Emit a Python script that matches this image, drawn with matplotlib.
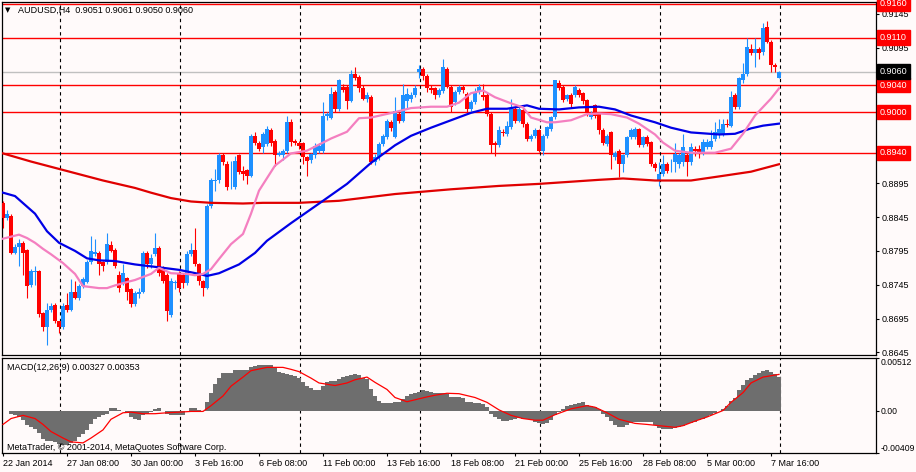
import matplotlib
matplotlib.use("Agg")
import matplotlib.pyplot as plt
import matplotlib.transforms as mtransforms
import numpy as np

# AUDUSD H4 candles, bar 0 = 22 Jan 2014 16:00
opens = [
    0.8866, 0.8844, 0.8847, 0.8792, 0.8801, 0.8807, 0.8796, 0.8744, 0.8764, 0.8765,
    0.8703, 0.8682, 0.8708, 0.8715, 0.8691, 0.8683, 0.8715, 0.8708, 0.8734, 0.8725,
    0.8743, 0.8749, 0.8778, 0.8791, 0.8792, 0.8778, 0.8778, 0.8804, 0.8797, 0.8760,
    0.8748, 0.8755, 0.8738, 0.8716, 0.8732, 0.8735, 0.8792, 0.8775, 0.8790, 0.8800,
    0.8770, 0.8760, 0.8701, 0.8748, 0.8763, 0.8760, 0.8748, 0.8790, 0.8797, 0.8775,
    0.8750, 0.8740, 0.8862, 0.8898, 0.8899, 0.8937, 0.8924, 0.8908, 0.8889, 0.8936,
    0.8913, 0.8914, 0.8906, 0.8965, 0.8955, 0.8948, 0.8953, 0.8974, 0.8958, 0.8937,
    0.8937, 0.8943, 0.8986, 0.8958, 0.8955, 0.8954, 0.8933, 0.8930, 0.8936, 0.8943,
    0.8943, 0.8995, 0.8992, 0.9030, 0.9005, 0.9037, 0.9037, 0.9017, 0.9057, 0.9052,
    0.9036, 0.9020, 0.9023, 0.8926, 0.8933, 0.8953, 0.8963, 0.8985, 0.8963, 0.8997,
    0.8987, 0.9017, 0.9020, 0.9025, 0.9059, 0.9064, 0.9054, 0.9035, 0.9035, 0.9026,
    0.9031, 0.9064, 0.9037, 0.9015, 0.9030, 0.9037, 0.9027, 0.9005, 0.9015, 0.9030,
    0.9026, 0.9025, 0.8997, 0.8954, 0.8951, 0.8971, 0.8968, 0.8978, 0.9004, 0.8987,
    0.9003, 0.8983, 0.8961, 0.8965, 0.8973, 0.8943, 0.8965, 0.8975, 0.8993, 0.9043,
    0.9037, 0.9020, 0.9025, 0.9025, 0.9033, 0.9028, 0.9018, 0.8993, 0.9010, 0.8997,
    0.8974, 0.8953, 0.8970, 0.8933, 0.8943, 0.8923, 0.8936, 0.8963, 0.8963, 0.8975,
    0.8952, 0.8963, 0.8956, 0.8923, 0.8899, 0.8909, 0.8923, 0.8920, 0.8926, 0.8923,
    0.8926, 0.8936, 0.8926, 0.8946, 0.8946, 0.8939, 0.8949, 0.8948, 0.8960, 0.8968,
    0.8968, 0.8982, 0.8980, 0.9025, 0.9007, 0.9047, 0.9057, 0.9094, 0.9087, 0.9094,
    0.9089, 0.9126, 0.9104, 0.9070, 0.9051,
]
highs = [
    0.8869, 0.8855, 0.8849, 0.8805, 0.8812, 0.8810, 0.8798, 0.8768, 0.8772, 0.8767,
    0.8705, 0.8718, 0.8718, 0.8718, 0.8692, 0.8718, 0.8733, 0.8754, 0.8750, 0.8746,
    0.8757, 0.8782, 0.8817, 0.8812, 0.8795, 0.8780, 0.8822, 0.8810, 0.8800, 0.8765,
    0.8775, 0.8757, 0.8740, 0.8736, 0.8740, 0.8795, 0.8795, 0.8790, 0.8822, 0.8802,
    0.8772, 0.8762, 0.8755, 0.8752, 0.8765, 0.8762, 0.8795, 0.8807, 0.8829, 0.8777,
    0.8752, 0.8865, 0.8903, 0.8916, 0.8939, 0.8940, 0.8928, 0.8928, 0.8935, 0.8938,
    0.8920, 0.8916, 0.8968, 0.8970, 0.8958, 0.8970, 0.8980, 0.8977, 0.8960, 0.8942,
    0.8945, 0.8995, 0.8990, 0.8960, 0.8958, 0.8956, 0.8935, 0.8940, 0.8955, 0.8955,
    0.9015, 0.9000, 0.9037, 0.9032, 0.9049, 0.9042, 0.9040, 0.9062, 0.9067, 0.9055,
    0.9040, 0.9030, 0.9026, 0.8938, 0.8956, 0.8968, 0.8990, 0.8988, 0.9022, 0.9000,
    0.9042, 0.9035, 0.9030, 0.9040, 0.9069, 0.9066, 0.9056, 0.9040, 0.9037, 0.9036,
    0.9079, 0.9066, 0.9040, 0.9032, 0.9040, 0.9040, 0.9030, 0.9018, 0.9035, 0.9042,
    0.9042, 0.9028, 0.9000, 0.8957, 0.8980, 0.8975, 0.8987, 0.9020, 0.9007, 0.9008,
    0.9006, 0.8985, 0.8968, 0.8976, 0.8975, 0.8967, 0.8980, 0.8995, 0.9048, 0.9047,
    0.9040, 0.9027, 0.9028, 0.9040, 0.9036, 0.9030, 0.9020, 0.9002, 0.9012, 0.8999,
    0.8976, 0.8968, 0.8972, 0.8942, 0.8945, 0.8938, 0.8965, 0.8976, 0.8978, 0.8977,
    0.8965, 0.8966, 0.8958, 0.8926, 0.8926, 0.8936, 0.8926, 0.8931, 0.8955, 0.8940,
    0.8968, 0.8940, 0.8955, 0.8950, 0.8952, 0.8961, 0.8960, 0.8973, 0.8985, 0.8990,
    0.8990, 0.8990, 0.9031, 0.9028, 0.9052, 0.9072, 0.9109, 0.9101, 0.9110, 0.9096,
    0.9131, 0.9135, 0.9106, 0.9073, 0.9061,
]
lows = [
    0.8829, 0.8840, 0.8790, 0.8790, 0.8772, 0.8760, 0.8726, 0.8742, 0.8745, 0.8698,
    0.8676, 0.8656, 0.8705, 0.8688, 0.8673, 0.8680, 0.8705, 0.8706, 0.8724, 0.8722,
    0.8740, 0.8747, 0.8776, 0.8788, 0.8760, 0.8765, 0.8775, 0.8793, 0.8770, 0.8735,
    0.8745, 0.8723, 0.8712, 0.8713, 0.8725, 0.8733, 0.8770, 0.8770, 0.8788, 0.8758,
    0.8748, 0.8691, 0.8698, 0.8738, 0.8735, 0.8740, 0.8745, 0.8788, 0.8773, 0.8745,
    0.8728, 0.8738, 0.8858, 0.8884, 0.8895, 0.8922, 0.8885, 0.8886, 0.8886, 0.8908,
    0.8900, 0.8894, 0.8904, 0.8952, 0.8942, 0.8940, 0.8950, 0.8950, 0.8921, 0.8935,
    0.8930, 0.8940, 0.8950, 0.8952, 0.8945, 0.8923, 0.8906, 0.8925, 0.8932, 0.8940,
    0.8940, 0.8988, 0.8990, 0.9000, 0.9002, 0.9030, 0.9005, 0.9015, 0.9048, 0.9030,
    0.9018, 0.9015, 0.8924, 0.8922, 0.8930, 0.8950, 0.8960, 0.8972, 0.8962, 0.8984,
    0.8985, 0.9005, 0.9015, 0.9022, 0.9050, 0.9048, 0.9030, 0.9028, 0.9020, 0.9022,
    0.9028, 0.9035, 0.9000, 0.9010, 0.9027, 0.9028, 0.9000, 0.9002, 0.9012, 0.9027,
    0.9018, 0.8995, 0.8940, 0.8935, 0.8948, 0.8965, 0.8965, 0.8975, 0.8984, 0.8985,
    0.8978, 0.8958, 0.8958, 0.8962, 0.8941, 0.8936, 0.8962, 0.8972, 0.8990, 0.9032,
    0.9015, 0.9016, 0.9008, 0.9022, 0.9022, 0.9012, 0.8995, 0.8990, 0.8992, 0.8968,
    0.8952, 0.8950, 0.8916, 0.8930, 0.8904, 0.8911, 0.8933, 0.8960, 0.8960, 0.8948,
    0.8949, 0.8950, 0.8920, 0.8913, 0.8891, 0.8906, 0.8910, 0.8911, 0.8911, 0.8918,
    0.8921, 0.8906, 0.8922, 0.8935, 0.8932, 0.8936, 0.8945, 0.8945, 0.8957, 0.8962,
    0.8965, 0.8978, 0.8978, 0.9004, 0.9004, 0.9043, 0.9054, 0.9084, 0.9067, 0.9079,
    0.9085, 0.9102, 0.9060, 0.9060, 0.9050,
]
closes = [
    0.8844, 0.8849, 0.8792, 0.8801, 0.8806, 0.8792, 0.8743, 0.8765, 0.8766, 0.8702,
    0.8683, 0.8708, 0.8713, 0.8691, 0.8683, 0.8713, 0.8708, 0.8735, 0.8726, 0.8743,
    0.8753, 0.8778, 0.8795, 0.8794, 0.8776, 0.8772, 0.8805, 0.8795, 0.8772, 0.8740,
    0.8762, 0.8735, 0.8716, 0.8733, 0.8735, 0.8792, 0.8775, 0.8785, 0.8800, 0.8762,
    0.8750, 0.8706, 0.8750, 0.8749, 0.8740, 0.8748, 0.8790, 0.8797, 0.8775, 0.8750,
    0.8740, 0.8862, 0.8900, 0.8900, 0.8936, 0.8926, 0.8889, 0.8909, 0.8928, 0.8911,
    0.8908, 0.8906, 0.8965, 0.8955, 0.8946, 0.8968, 0.8975, 0.8954, 0.8936, 0.8940,
    0.8943, 0.8985, 0.8956, 0.8955, 0.8950, 0.8933, 0.8928, 0.8938, 0.8950, 0.8950,
    0.8995, 0.8997, 0.9027, 0.9005, 0.9047, 0.9032, 0.9017, 0.9057, 0.9050, 0.9035,
    0.9020, 0.9025, 0.8926, 0.8933, 0.8953, 0.8965, 0.8987, 0.8976, 0.9002, 0.8987,
    0.9026, 0.9027, 0.9026, 0.9035, 0.9064, 0.9054, 0.9035, 0.9032, 0.9025, 0.9032,
    0.9067, 0.9037, 0.9007, 0.9030, 0.9037, 0.9032, 0.9005, 0.9015, 0.9030, 0.9037,
    0.9022, 0.8997, 0.8951, 0.8951, 0.8973, 0.8969, 0.8980, 0.9005, 0.8987, 0.9005,
    0.8983, 0.8961, 0.8964, 0.8973, 0.8943, 0.8965, 0.8978, 0.8993, 0.9047, 0.9035,
    0.9018, 0.9025, 0.9012, 0.9037, 0.9026, 0.9017, 0.8998, 0.8998, 0.8995, 0.8974,
    0.8954, 0.8965, 0.8936, 0.8939, 0.8923, 0.8936, 0.8963, 0.8973, 0.8975, 0.8951,
    0.8963, 0.8953, 0.8923, 0.8918, 0.8909, 0.8923, 0.8913, 0.8921, 0.8938, 0.8936,
    0.8948, 0.8926, 0.8948, 0.8943, 0.8939, 0.8956, 0.8956, 0.8958, 0.8970, 0.8975,
    0.8983, 0.8981, 0.9022, 0.9007, 0.9050, 0.9057, 0.9096, 0.9088, 0.9094, 0.9087,
    0.9124, 0.9104, 0.9069, 0.9067, 0.9060,
]

# moving averages (bar index, price)
pink_idx = [0, 4, 6, 8, 10, 12, 15, 18, 20, 24, 26, 28, 31, 33, 37, 39, 42, 46, 48, 50,
            52, 54, 57, 60, 62, 64, 68, 72, 76, 79, 82, 86, 89, 92, 98, 102, 107, 111, 114, 117,
            120, 123, 127, 130, 132, 136, 138, 142, 146, 149, 152, 156, 159, 163, 165, 168, 172, 178, 182, 185,
            188, 192, 194]
pink_val = [0.8813, 0.8819, 0.8814, 0.8807, 0.8798, 0.8790, 0.8777, 0.8761, 0.8743, 0.8740,
            0.8740, 0.8744, 0.8749, 0.8752, 0.8761, 0.8770, 0.8762, 0.8761, 0.8759, 0.8761,
            0.8768, 0.8783, 0.8805, 0.8820, 0.8850, 0.8884, 0.8921, 0.8939, 0.8943, 0.8952,
            0.8961, 0.8971, 0.8991, 0.8992, 0.9000, 0.9006, 0.9008, 0.9008, 0.9014, 0.9028,
            0.9032, 0.9022, 0.9013, 0.9007, 0.8992, 0.8985, 0.8985, 0.8988, 0.8997, 0.8998,
            0.8997, 0.8992, 0.8983, 0.8967, 0.8955, 0.8943, 0.8940, 0.8940, 0.8946, 0.8968,
            0.8995, 0.9020, 0.9035]
blue_idx = [0, 3, 8, 11, 14, 18, 21, 24, 28, 33, 40, 44, 49, 51, 54, 59, 63, 66, 72, 80,
            86, 92, 98, 102, 107, 112, 117, 121, 126, 131, 134, 139, 144, 149, 153, 157, 163, 167, 172, 179,
            183, 187, 190, 194]
blue_val = [0.8881, 0.8876, 0.8850, 0.8824, 0.8807, 0.8795, 0.8784, 0.8781, 0.8780, 0.8775,
            0.8770, 0.8767, 0.8761, 0.8758, 0.8762, 0.8775, 0.8792, 0.8810, 0.8836, 0.8869,
            0.8894, 0.8925, 0.8951, 0.8965, 0.8977, 0.8988, 0.8999, 0.9005, 0.9005, 0.9010,
            0.9005, 0.9004, 0.9007, 0.9008, 0.9004, 0.8995, 0.8985, 0.8977, 0.8970, 0.8967,
            0.8968, 0.8976, 0.8980, 0.8983]
red_idx = [0, 7, 16, 25, 33, 37, 42, 47, 52, 60, 65, 74, 84, 98, 112, 124, 134, 149, 155, 163,
           172, 179, 187, 194]
red_val = [0.8939, 0.8927, 0.8913, 0.8899, 0.8888, 0.8881, 0.8873, 0.8868, 0.8866, 0.8865,
           0.8866, 0.8866, 0.8869, 0.8879, 0.8886, 0.8891, 0.8894, 0.8900, 0.8902, 0.8899,
           0.8899, 0.8905, 0.8912, 0.8923]

# MACD(12,26,9) histogram per bar and signal line
macd_hist = [
    -0.00005, -0.00006, -0.00035, -0.00044, -0.00060, -0.00091, -0.00138, -0.00160, -0.00179, -0.00217,
    -0.00270, -0.00289, -0.00295, -0.00305, -0.00317, -0.00327, -0.00327, -0.00311, -0.00295, -0.00257,
    -0.00226, -0.00185, -0.00132, -0.00075, -0.00060, -0.00044, -0.00028, 0.00025, 0.00025, 0.00005,
    -0.00006, -0.00019, -0.00060, -0.00075, -0.00085, -0.00044, -0.00028, -0.00013, 0.00019, 0.00025,
    0.00003, -0.00028, -0.00038, -0.00038, -0.00044, -0.00038, 0.00000, 0.00025, 0.00025, 0.00006,
    0.00003, 0.00082, 0.00176, 0.00261, 0.00317, 0.00364, 0.00371, 0.00371, 0.00396, 0.00396,
    0.00396, 0.00396, 0.00427, 0.00433, 0.00440, 0.00443, 0.00446, 0.00440, 0.00421, 0.00380,
    0.00371, 0.00358, 0.00349, 0.00333, 0.00317, 0.00279, 0.00245, 0.00223, 0.00201, 0.00198,
    0.00239, 0.00279, 0.00286, 0.00286, 0.00308, 0.00327, 0.00339, 0.00349, 0.00358, 0.00349,
    0.00317, 0.00308, 0.00214, 0.00144, 0.00097, 0.00075, 0.00075, 0.00075, 0.00082, 0.00088,
    0.00113, 0.00144, 0.00160, 0.00176, 0.00182, 0.00201, 0.00192, 0.00182, 0.00176, 0.00170,
    0.00170, 0.00160, 0.00138, 0.00138, 0.00135, 0.00129, 0.00088, 0.00082, 0.00075, 0.00075,
    0.00066, 0.00035, -0.00028, -0.00060, -0.00082, -0.00100, -0.00100, -0.00091, -0.00075, -0.00069,
    -0.00075, -0.00082, -0.00091, -0.00107, -0.00122, -0.00132, -0.00122, -0.00091, -0.00038, -0.00013,
    0.00019, 0.00044, 0.00057, 0.00066, 0.00075, 0.00082, 0.00057, 0.00050, 0.00035, 0.00019,
    -0.00028, -0.00060, -0.00100, -0.00138, -0.00154, -0.00154, -0.00138, -0.00122, -0.00113, -0.00113,
    -0.00113, -0.00113, -0.00113, -0.00138, -0.00170, -0.00176, -0.00179, -0.00176, -0.00163, -0.00154,
    -0.00144, -0.00132, -0.00122, -0.00107, -0.00091, -0.00075, -0.00060, -0.00038, -0.00019, 0.00003,
    0.00019, 0.00044, 0.00097, 0.00129, 0.00201, 0.00254, 0.00295, 0.00317, 0.00349, 0.00371,
    0.00389, 0.00396, 0.00380, 0.00355, 0.00327,
]
sig_idx = [0, 2, 5, 8, 10, 12, 15, 17, 20, 22, 25, 27, 30, 32, 35, 38, 41, 44, 47, 50,
           52, 55, 57, 60, 62, 66, 70, 72, 74, 77, 79, 83, 86, 88, 91, 93, 96, 98, 101, 103,
           106, 108, 111, 114, 118, 121, 124, 127, 130, 133, 135, 138, 142, 146, 148, 151, 154, 158, 161, 164,
           168, 170, 173, 176, 180, 182, 185, 187, 190, 194]
sig_val = [-0.00132, -0.00075, -0.00044, -0.00075, -0.00132, -0.00201, -0.00264, -0.00301, -0.00311, -0.00264,
           -0.00185, -0.00082, -0.00019, -0.00013, -0.00028, -0.00028, -0.00019, -0.00013, -0.00006, -0.00006,
           0.00050, 0.00144, 0.00239, 0.00327, 0.00389, 0.00421, 0.00421, 0.00402, 0.00380, 0.00317,
           0.00270, 0.00245, 0.00270, 0.00301, 0.00327, 0.00276, 0.00207, 0.00129, 0.00088, 0.00107,
           0.00135, 0.00151, 0.00170, 0.00166, 0.00129, 0.00082, 0.00009, -0.00044, -0.00075, -0.00091,
           -0.00091, -0.00038, 0.00019, 0.00050, 0.00035, -0.00019, -0.00082, -0.00122, -0.00132, -0.00144,
           -0.00160, -0.00144, -0.00100, -0.00060, 0.00003, 0.00082, 0.00176, 0.00270, 0.00327, 0.00353]

levels = [0.9160, 0.9110, 0.9040, 0.9000, 0.8940]
bid = 0.9060
separators = [14, 44, 74, 104, 134, 164, 194]
price_ticks = [0.8645, 0.8695, 0.8745, 0.8795, 0.8845, 0.8895, 0.8945, 0.8995, 0.9045, 0.9095, 0.9145]
macd_ticks = [0.00512, 0.0, -0.00409]
macd_labels = ["0.00512", "0.00", "-0.00409"]
time_ticks = [0, 16, 32, 48, 64, 80, 96, 112, 128, 144, 160, 176, 192]
time_labels = ["22 Jan 2014", "27 Jan 08:00", "30 Jan 00:00", "3 Feb 16:00", "6 Feb 08:00",
               "11 Feb 00:00", "13 Feb 16:00", "18 Feb 08:00", "21 Feb 00:00", "25 Feb 16:00",
               "28 Feb 08:00", "5 Mar 00:00", "7 Mar 16:00"]

BG = "#FFFAFA"
BULL = "#1E90FF"
BEAR = "#FF0000"
W, H = 916, 472
FS = 6.5

plt.rcParams["font.family"] = ["Liberation Sans", "DejaVu Sans"]


def rect(l, t, r, b):
    return [l / W, 1 - b / H, (r - l) / W, (b - t) / H]


fig = plt.figure(figsize=(W / 100, H / 100), dpi=100, facecolor=BG)
ax = fig.add_axes(rect(2, 2, 876, 355), facecolor=BG)
ax2 = fig.add_axes(rect(2, 358, 876, 453), facecolor=BG, sharex=ax)

x = np.arange(len(closes))
o = np.array(opens)
c = np.array(closes)
col = np.where(c >= o, BULL, BEAR)

# horizontal levels and bid line
for lv in levels:
    ax.axhline(lv, color="#FF0000", lw=1.0, zorder=1)
ax.axhline(bid, color="#C0C0C0", lw=1.0, zorder=1)

for s in separators:
    ax.axvline(s + 0.25, color="black", lw=0.8, ls=(0, (3, 3)), zorder=1)
    ax2.axvline(s + 0.25, color="black", lw=0.8, ls=(0, (3, 3)), zorder=1)

ax.vlines(x, lows, highs, colors=col, lw=0.8, zorder=3)
ax.bar(x, np.maximum(np.abs(c - o), 0.00007), 0.8, np.minimum(o, c), color=col, lw=0, zorder=3)

ax.plot(red_idx, red_val, color="#E00000", lw=1.6, zorder=4)
ax.plot(blue_idx, blue_val, color="#0000E6", lw=1.6, zorder=4)
ax.plot(pink_idx, pink_val, color="#F47FC0", lw=1.6, zorder=4)

ax.set_xlim(-0.25, 218.25)
ax.set_ylim(0.86412, 0.91627)

ax.yaxis.tick_right()
ax.set_yticks(price_ticks)
ax.set_yticklabels([f"{v:.4f}" for v in price_ticks])
ax.tick_params(axis="y", direction="out", length=2.5, pad=1.5, labelsize=FS, colors="black")
ax.tick_params(axis="x", bottom=False, labelbottom=False)

# boxed level labels on the price scale
tr = mtransforms.blended_transform_factory(ax.transAxes, ax.transData)
for lv in levels:
    ax.text(1.0045, lv, f"{lv:.4f}", transform=tr, ha="left", va="center", fontsize=FS,
            color="white", clip_on=False, zorder=10,
            bbox=dict(boxstyle="square,pad=0.3", fc="#FF0000", ec="#FF0000"))
ax.text(1.0045, bid, f"{bid:.4f}", transform=tr, ha="left", va="center", fontsize=FS,
        color="white", clip_on=False, zorder=10,
        bbox=dict(boxstyle="square,pad=0.3", fc="black", ec="black"))

# MACD panel
ax2.bar(x, macd_hist, 0.78, color="#6E6E6E", lw=0, zorder=2)
ax2.plot(sig_idx, sig_val, color="#FF0000", lw=0.9, zorder=3)
ax2.set_ylim(-0.00409, 0.00512)
ax2.yaxis.tick_right()
ax2.set_yticks(macd_ticks)
ax2.set_yticklabels(macd_labels)
ax2.tick_params(axis="y", direction="out", length=2.5, pad=1, labelsize=6.2, colors="black")
yl = ax2.get_yticklabels()
yl[0].set_va("top")
yl[-1].set_va("bottom")

ax2.set_xticks(time_ticks)
ax2.set_xticklabels(time_labels)
ax2.tick_params(axis="x", direction="out", length=2, pad=2, labelsize=FS, colors="black")
for t in ax2.get_xticklabels():
    t.set_ha("left")

for a in (ax, ax2):
    for sp in a.spines.values():
        sp.set_color("black")
        sp.set_linewidth(0.9)

fig.text(5 / W, 1 - 10 / H, "\u25bc", fontsize=5, va="center", ha="left", color="black",
         family="DejaVu Sans")
fig.text(18 / W, 1 - 10 / H, "AUDUSD,H4  0.9051 0.9061 0.9050 0.9060", fontsize=FS,
         va="center", ha="left", color="black")
fig.text(7 / W, 1 - 367 / H, "MACD(12,26,9) 0.00327 0.00353", fontsize=FS,
         va="center", ha="left", color="black")
fig.text(7 / W, 1 - 447 / H, "MetaTrader, \u00a9 2001-2014, MetaQuotes Software Corp.", fontsize=FS,
         va="center", ha="left", color="black")

fig.savefig("out.png", dpi=100, facecolor=BG)
